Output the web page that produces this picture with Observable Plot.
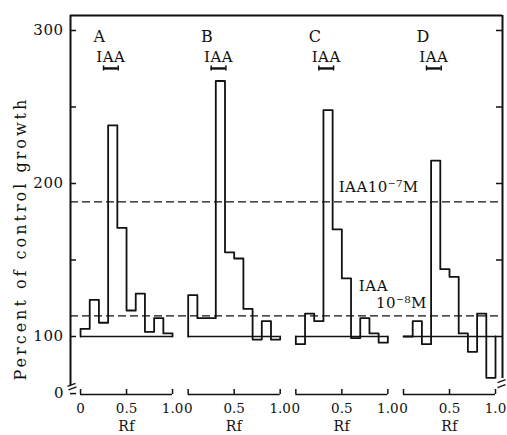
<!DOCTYPE html>
<html><head><meta charset="utf-8">
<script src="https://cdn.jsdelivr.net/npm/d3@7"></script>
<script src="https://cdn.jsdelivr.net/npm/@observablehq/plot@0.6"></script>
<style>body{margin:0;background:#fff}</style>
</head><body><div id="chart"></div>
<script>
// ---- data ----
const panels = ["A", "B", "C", "D"];
const binStarts = [0, 0.1, 0.2, 0.3, 0.4, 0.5, 0.6, 0.7, 0.8, 0.9];
const growthA = [105, 124, 109, 238, 171, 117, 128, 103, 112, 102];
const growthB = [127, 112, 112, 267, 155, 151, 118, 98, 110, 98];
const growthC = [95, 115, 110, 248, 170, 138, 99, 112, 102, 96];
const growthD = [100, 110, 95, 215, 144, 139, 102, 90, 115, 73];
const growth = [growthA, growthB, growthC, growthD];
const controlLevel = 100;
const iaaRange = [0.25, 0.41];
const iaaLabel = "IAA";
const refLevels = [188, 113.5];
const refLabel7 = "IAA10\u207B\u2077M";
const refLabel8a = "IAA";
const refLabel8b = "10\u207B\u2078M";
const yTicks = [0, 100, 200, 300];
const yMinorTicks = [150, 250];
const xTicks = [0, 0.5, 1.0];
const xTickLabels = ["0", "0.5", "1.0"];
const xLabel = "Rf";
const yLabel = "Percent of control growth";

// ---- layout ----
const panelStep = 1.17;
const xDomain = [-0.109, 4.586];
const yDomain = [62.1, 309.8];
const yZeroPos = 62.7;            // broken axis: where "0" sits
const pxX = 92, pxY = 1.53;       // pixels per unit
const ux = px => px / pxX, uy = px => px / pxY;
const yPos = v => (v === 0 ? yZeroPos : v);
const off = i => i * panelStep;
const x0 = xDomain[0], x1 = xDomain[1], yb = yDomain[0], yt = yDomain[1];

const outline = [];
panels.forEach((p, i) => {
  outline.push({panel: p, x: off(i), y: controlLevel});
  binStarts.forEach((b, j) => outline.push({panel: p, x: off(i) + b, y: growth[i][j]}));
  outline.push({panel: p, x: off(i) + 1.0, y: controlLevel});
});
const baselines = panels.map((p, i) => ({x1: off(i), x2: i === panels.length - 1 ? x1 : off(i) + 1.0}));
const xTickRows = panels.flatMap((p, i) => xTicks.map((t, k) => ({x: off(i) + t, label: xTickLabels[k]})));
const letterRows = panels.map((p, i) => ({x: off(i) + 0.14, label: p}));
const iaaRows = panels.map((p, i) => ({x: off(i) + (iaaRange[0] + iaaRange[1]) / 2, a: off(i) + iaaRange[0], b: off(i) + iaaRange[1]}));
const allYTicks = [...yTicks.map(yPos), ...yMinorTicks];
const leftEnd = 68, rightEnd = 72.5;
const breaks = [
  {x1: x0 - ux(3), y1: leftEnd - uy(1), x2: x0 + ux(5), y2: leftEnd + uy(2)},
  {x1: x0 - ux(2), y1: leftEnd - uy(4.5), x2: x0 + ux(6), y2: leftEnd - uy(1.5)},
  {x1: x1 - ux(5), y1: rightEnd - uy(4), x2: x1 + ux(3), y2: rightEnd - uy(1)},
  {x1: x1 - ux(5), y1: rightEnd - uy(9), x2: x1 + ux(3), y2: rightEnd - uy(6)}
];

const chart = Plot.plot({
  width: 507, height: 435,
  marginLeft: 70, marginRight: 5, marginTop: 15, marginBottom: 41,
  x: {domain: xDomain, axis: null},
  y: {domain: yDomain, axis: null},
  style: {fontFamily: "'DejaVu Serif', 'Liberation Serif', serif", fontSize: "15px", background: "#fff", color: "#111"},
  marks: [
    // frame
    Plot.ruleY([yt], {x1: x0, x2: x1, strokeWidth: 2}),
    Plot.ruleX([x0], {y1: leftEnd, y2: yt, strokeWidth: 2}),
    Plot.ruleX([x1], {y1: rightEnd, y2: yt, strokeWidth: 2}),
    Plot.link(breaks, {x1: "x1", y1: "y1", x2: "x2", y2: "y2", strokeWidth: 1.3}),
    // y ticks (inward)
    Plot.ruleY(allYTicks, {x1: x0, x2: x0 + ux(6), strokeWidth: 1.5}),
    Plot.ruleY(allYTicks.filter(v => v > 140), {x1: x1 - ux(6), x2: x1, strokeWidth: 1.5}),
    Plot.text(yTicks, {x: x0, y: yPos, text: d => String(d), textAnchor: "end", dx: -7, fontSize: 15}),
    Plot.text([yLabel], {x: x0, y: 164, text: d => d, rotate: -90, dx: -50, fontSize: 16}),
    // x axes per panel
    Plot.ruleY(panels.map((p, i) => off(i)), {x1: d => d, x2: d => d + 1.0, y: yb, strokeWidth: 1.6}),
    Plot.ruleX(xTickRows, {x: "x", y1: yb, y2: yb + uy(5), strokeWidth: 1.5}),
    Plot.text(xTickRows, {x: "x", y: yb, text: "label", dy: 14, fontSize: 13.5}),
    Plot.text(panels.map((p, i) => off(i) + 0.5), {x: d => d, y: yb, text: () => xLabel, dy: 32, fontSize: 14}),
    // reference lines
    Plot.ruleY(refLevels, {x1: x0, x2: x1, strokeDasharray: "8,4", strokeWidth: 1.2}),
    Plot.text([refLabel7], {x: 2.805, y: 197.4, text: d => d, textAnchor: "start", fontSize: 15}),
    Plot.text([refLabel8a], {x: 3.025, y: 132.7, text: d => d, textAnchor: "start", fontSize: 15}),
    Plot.text([refLabel8b], {x: 3.21, y: 121.6, text: d => d, textAnchor: "start", fontSize: 15}),
    // baselines and histograms
    Plot.ruleY(baselines, {x1: "x1", x2: "x2", y: controlLevel, strokeWidth: 1.6}),
    Plot.line(outline, {x: "x", y: "y", z: "panel", curve: "step-after", strokeWidth: 1.8}),
    // panel letters and IAA markers
    Plot.text(letterRows, {x: "x", y: 295.8, text: "label", textAnchor: "start", fontSize: 16}),
    Plot.text(iaaRows, {x: "x", y: 282.4, text: () => iaaLabel, fontSize: 15}),
    Plot.ruleY(iaaRows, {x1: "a", x2: "b", y: 275.2, strokeWidth: 2.4}),
    Plot.ruleX(iaaRows.flatMap(d => [d.a, d.b]), {x: d => d, y1: 275.2 - uy(2.5), y2: 275.2 + uy(2.5), strokeWidth: 1.5})
  ]
});
document.getElementById("chart").appendChild(chart);
const texts = d3.select(chart).selectAll("text");
texts.style("letter-spacing", "0.5px");
texts.filter(function () { return xTickLabels.includes(this.textContent); }).style("letter-spacing", "0px");
texts.filter(function () { return this.textContent === yLabel; }).style("letter-spacing", "3px");
</script>
</body></html>
